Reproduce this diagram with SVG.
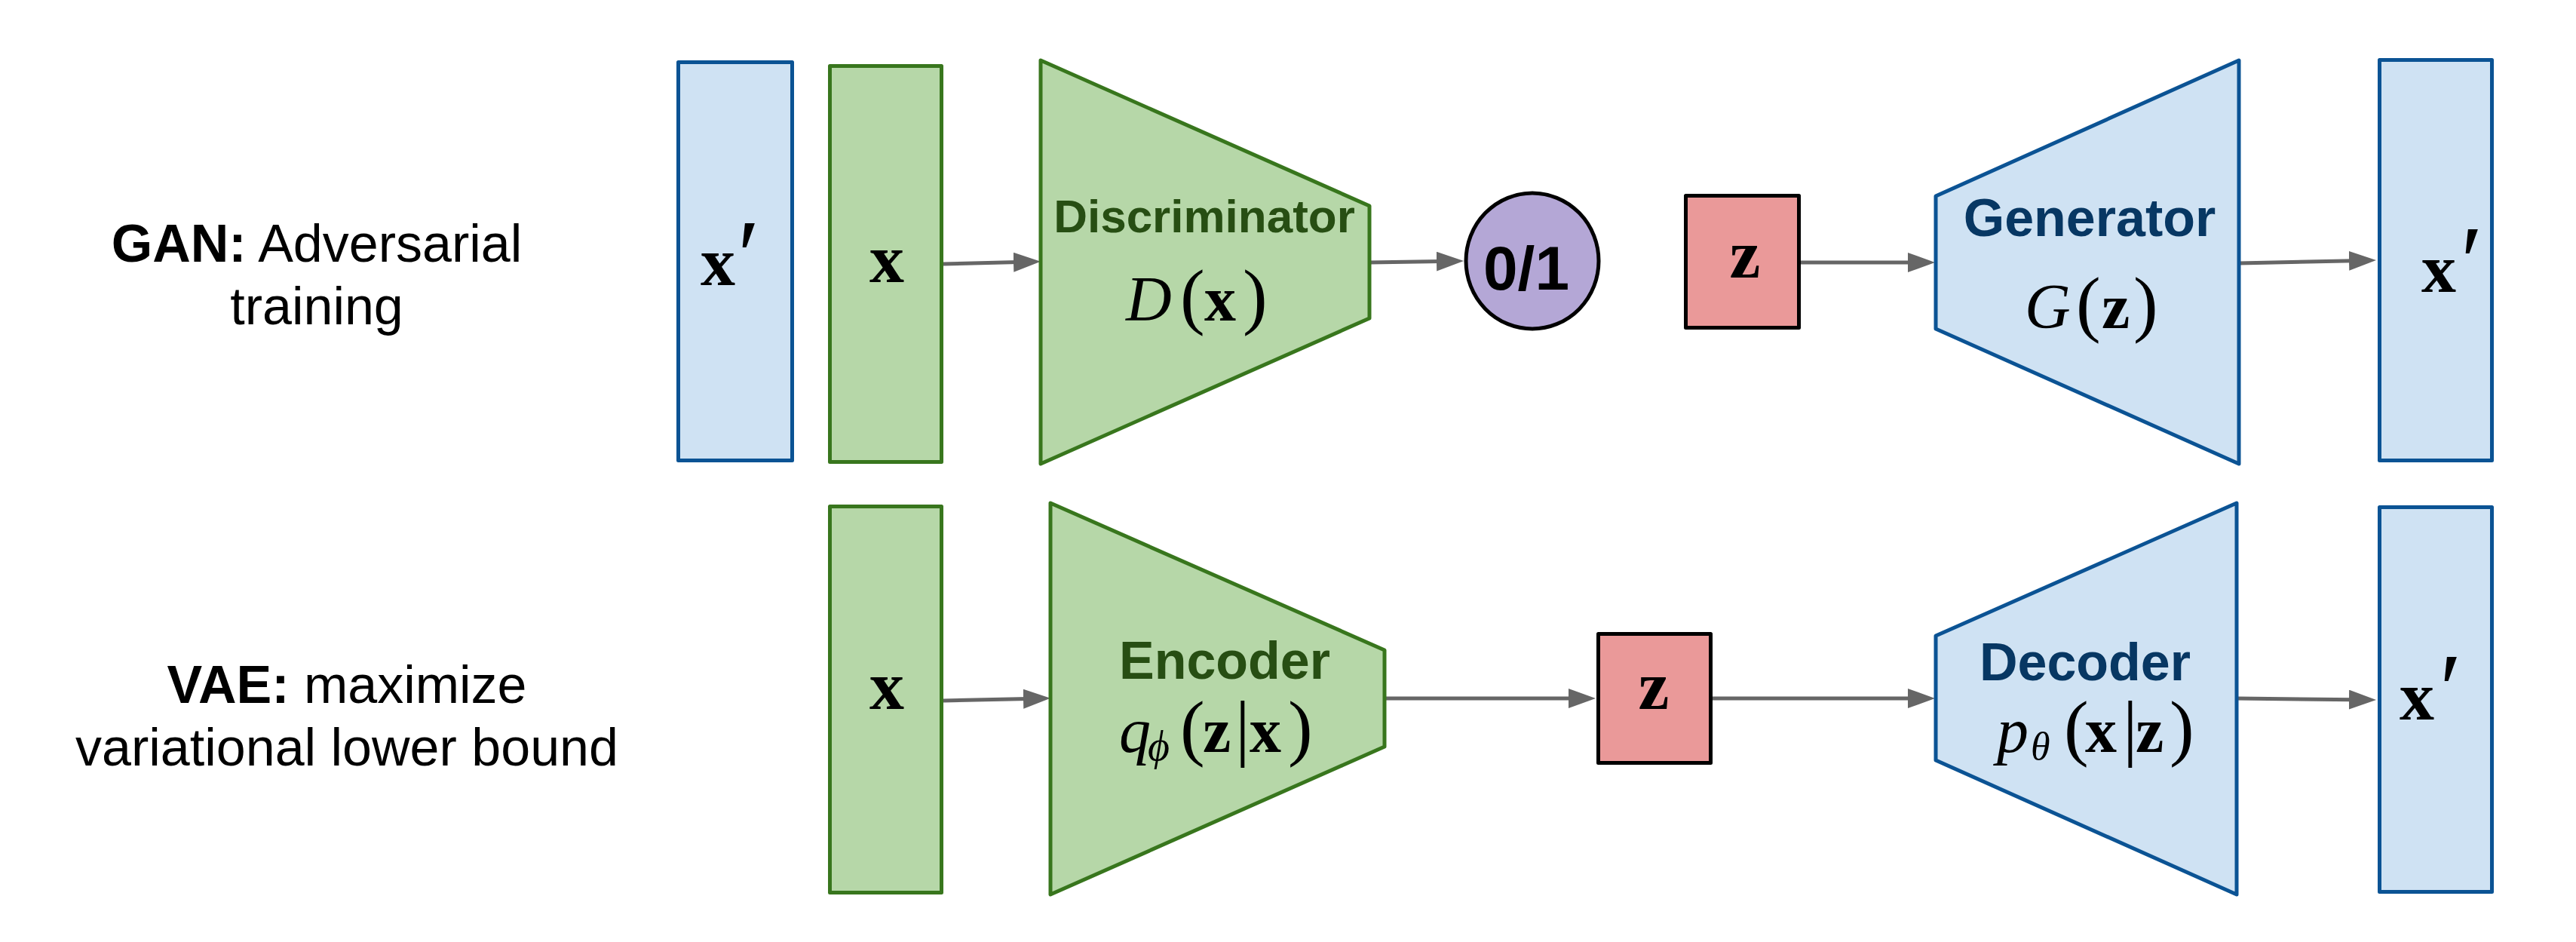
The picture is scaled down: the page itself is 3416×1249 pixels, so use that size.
<svg xmlns="http://www.w3.org/2000/svg" width="3416" height="1249" viewBox="0 0 3416 1249">
<defs>
<style>
.lbl{font-family:"Liberation Sans",Arial,sans-serif;font-size:70px;fill:#000;text-anchor:middle}
.b{font-weight:bold}
.gbox{fill:#b6d7a8;stroke:#38761d;stroke-width:5;stroke-linejoin:round}
.bbox{fill:#cfe2f3;stroke:#0b5394;stroke-width:5;stroke-linejoin:round}
.rbox{fill:#ea9999;stroke:#000;stroke-width:5;stroke-linejoin:round}
.gt{font-family:"Liberation Sans",Arial,sans-serif;font-weight:bold;fill:#274e13;text-anchor:middle}
.bt{font-family:"Liberation Sans",Arial,sans-serif;font-weight:bold;fill:#073763;text-anchor:middle}
.m{font-family:"Liberation Serif","DejaVu Serif",serif;font-size:84px;fill:#000}
.mb{font-family:"Liberation Serif","DejaVu Serif",serif;font-weight:bold;font-size:92px;fill:#000}
.it{font-style:italic}
.par{font-size:98px}
.pr{font-weight:normal;font-size:135px}
.conn{stroke:#666;stroke-width:5;fill:none;marker-end:url(#ah)}
</style>
<marker id="ah" markerUnits="userSpaceOnUse" viewBox="0 0 36 26" refX="6" refY="13" markerWidth="36" markerHeight="26" orient="auto">
<path d="M0,0 L36,13 L0,26 z" fill="#666"/>
</marker>
</defs>
<rect width="3416" height="1249" fill="#fff"/>

<g id="label-gan">
<text class="lbl" x="420" y="347"><tspan class="b">GAN:</tspan> Adversarial</text>
<text class="lbl" x="420" y="430">training</text>
</g>
<g id="label-vae">
<text class="lbl" x="460" y="932"><tspan class="b">VAE:</tspan> maximize</text>
<text class="lbl" x="460" y="1015">variational lower bound</text>
</g>

<g id="connectors">
<path class="conn" d="M1251,350 L1350,347.5"/>
<path class="conn" d="M1816,348 L1911,346.5"/>
<path class="conn" d="M2388,348 L2536,348"/>
<path class="conn" d="M2969,349 L3121,345.7"/>
<path class="conn" d="M1251,929 L1363,926.5"/>
<path class="conn" d="M1836,926 L2086,926"/>
<path class="conn" d="M2271,926 L2536,926"/>
<path class="conn" d="M2966,926 L3121,927.7"/>
</g>

<g id="gan-xprime-in">
<rect class="bbox" x="899.5" y="82.5" width="151" height="528"/>
<text class="mb" x="929" y="378">x<tspan class="pr" dx="3" dy="7">′</tspan></text>
</g>
<g id="gan-x">
<rect class="gbox" x="1100.5" y="87.5" width="148" height="525"/>
<text class="mb" x="1176" y="374" text-anchor="middle">x</text>
</g>
<g id="discriminator">
<polygon class="gbox" points="1380,80 1816,273 1816,422 1380,615"/>
<text class="gt" x="1597" y="308" font-size="62">Discriminator</text>
<text class="m" y="425"><tspan class="it" x="1493">D</tspan><tspan class="par" x="1565">(</tspan><tspan class="b" x="1597">x</tspan><tspan class="par" x="1648">)</tspan></text>
</g>
<g id="output-01">
<ellipse cx="2032" cy="346" rx="88" ry="90" fill="#b4a7d6" stroke="#000" stroke-width="5"/>
<text x="2024" y="384" font-family="Liberation Sans,Arial,sans-serif" font-weight="bold" font-size="82" text-anchor="middle" fill="#000">0/1</text>
</g>
<g id="gan-z">
<rect class="rbox" x="2235.5" y="259.5" width="150" height="175"/>
<text class="mb" x="2314" y="368" text-anchor="middle">z</text>
</g>
<g id="generator">
<polygon class="bbox" points="2567,260 2969,80 2969,615 2567,436"/>
<text class="bt" x="2771" y="313" font-size="70">Generator</text>
<text class="m" y="435"><tspan class="it" x="2685">G</tspan><tspan class="par" x="2753">(</tspan><tspan class="b" x="2787">z</tspan><tspan class="par" x="2829">)</tspan></text>
</g>
<g id="gan-xprime-out">
<rect class="bbox" x="3155.5" y="79.5" width="149" height="531"/>
<text class="mb" x="3211" y="387">x<tspan class="pr" dx="6" dy="6">′</tspan></text>
</g>

<g id="vae-x">
<rect class="gbox" x="1100.5" y="671.5" width="148" height="512"/>
<text class="mb" x="1176" y="940" text-anchor="middle">x</text>
</g>
<g id="encoder">
<polygon class="gbox" points="1393,667 1836,862 1836,990 1393,1186"/>
<text class="gt" x="1624" y="900" font-size="70">Encoder</text>
<text class="m" y="997"><tspan class="it" x="1484">q</tspan><tspan class="it" x="1522" y="1008" font-size="56">ϕ</tspan><tspan class="par" x="1565" y="997">(</tspan><tspan class="b" x="1595">z</tspan><tspan class="par" x="1638">|</tspan><tspan class="b" x="1657">x</tspan><tspan class="par" x="1708">)</tspan></text>
</g>
<g id="vae-z">
<rect class="rbox" x="2119.5" y="840.5" width="149" height="171"/>
<text class="mb" x="2193" y="940" text-anchor="middle">z</text>
</g>
<g id="decoder">
<polygon class="bbox" points="2567,843 2966,667 2966,1186 2567,1008"/>
<text class="bt" x="2765" y="902" font-size="70">Decoder</text>
<text class="m" y="997"><tspan class="it" x="2648">p</tspan><tspan class="it" x="2693" y="1007" font-size="52">θ</tspan><tspan class="par" x="2737" y="997">(</tspan><tspan class="b" x="2765">x</tspan><tspan class="par" x="2815">|</tspan><tspan class="b" x="2832">z</tspan><tspan class="par" x="2877">)</tspan></text>
</g>
<g id="vae-xprime-out">
<rect class="bbox" x="3155.5" y="672.5" width="149" height="510"/>
<text class="mb" x="3182" y="954">x<tspan class="pr" dx="7" dy="6">′</tspan></text>
</g>
</svg>
